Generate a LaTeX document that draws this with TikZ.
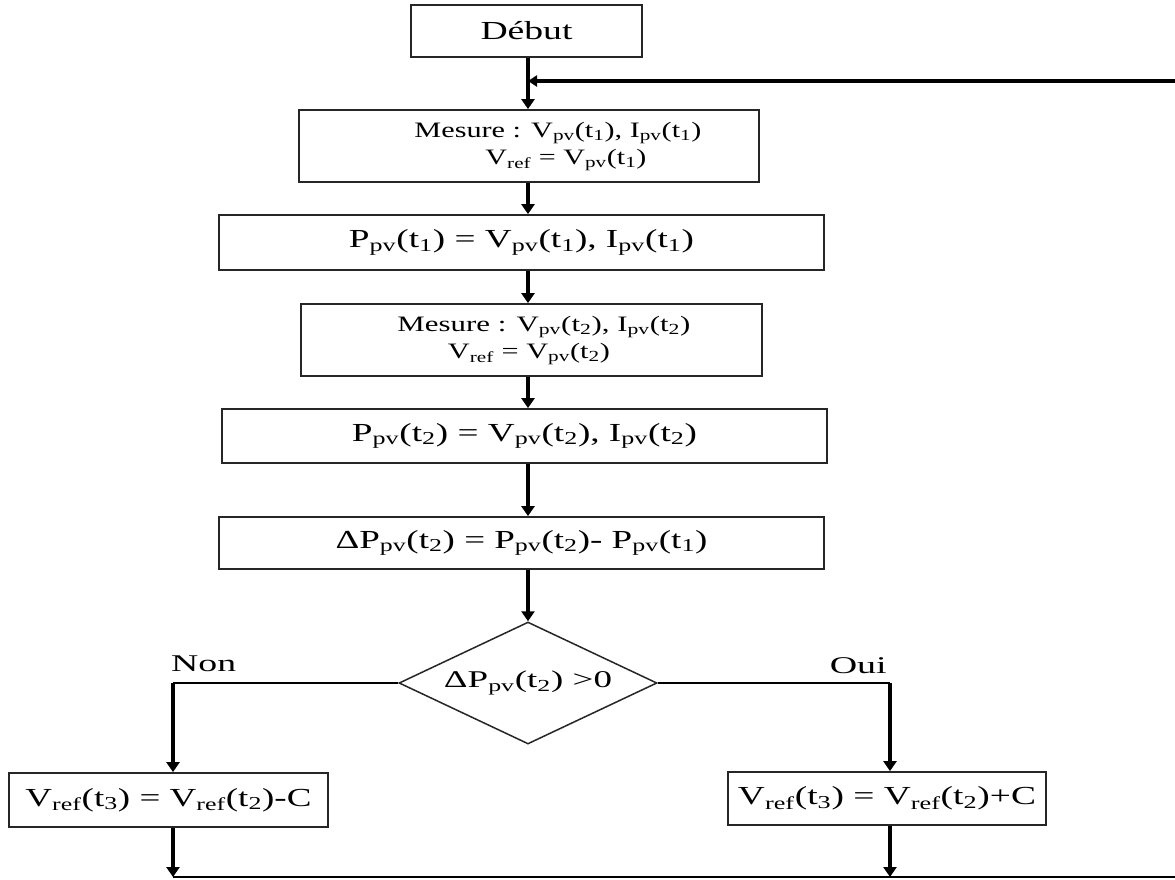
\documentclass[tikz,border=0pt]{standalone}
\usepackage{fontspec}
\setmainfont{Liberation Serif}
\usepackage{graphicx}
\usetikzlibrary{arrows.meta,shapes.geometric}
\newcommand\sbs[1]{\textsubscript{#1}}
\newcommand\fitw[2]{\resizebox{#1pt}{\height}{#2}}
\begin{document}
\begin{tikzpicture}[x=1pt,y=-1pt,
  box/.style={draw=black!85, line width=1.8pt, inner sep=0pt, fill=white},
  txt/.style={inner sep=0pt},
  big/.style={font=\fontsize{26pt}{30pt}\selectfont},
  mid/.style={font=\fontsize{22pt}{26pt}\selectfont},
  lab/.style={font=\fontsize{24pt}{28pt}\selectfont},
  arr/.style={line width=3.6pt, -{Triangle[length=10pt,width=13pt]}},
  fb/.style={line width=3.6pt, -{Triangle[length=9pt,width=11pt]}},
  thinline/.style={line width=1.5pt},
  botline/.style={line width=2.2pt}
]
\useasboundingbox (0,0) rectangle (1175,879);
\fill[white] (0,0) rectangle (1175,879);

% boxes
\node[box, minimum width=231pt, minimum height=52pt, big] (debut) at (526.5,31) {\fitw{92}{Début}};
\node[box, minimum width=460pt, minimum height=72pt] (m1) at (529,146) {};
\node[txt, mid] (m1a) at (558,133) {\fitw{287}{Mesure : V\sbs{pv}(t\sbs{1}), I\sbs{pv}(t\sbs{1})}};
\node[txt, mid] (m1b) at (566,160) {\fitw{161}{V\sbs{ref} = V\sbs{pv}(t\sbs{1})}};
\node[box, minimum width=605pt, minimum height=55pt, big] (p1) at (521.5,242.5) {\fitw{345}{P\sbs{pv}(t\sbs{1}) = V\sbs{pv}(t\sbs{1}), I\sbs{pv}(t\sbs{1})}};
\node[box, minimum width=461pt, minimum height=72pt] (m2) at (531.5,340) {};
\node[txt, mid] (m2a) at (544,327) {\fitw{293}{Mesure : V\sbs{pv}(t\sbs{2}), I\sbs{pv}(t\sbs{2})}};
\node[txt, mid] (m2b) at (529,354) {\fitw{162}{V\sbs{ref} = V\sbs{pv}(t\sbs{2})}};
\node[box, minimum width=605pt, minimum height=54pt, big] (p2) at (524.5,436) {\fitw{345}{P\sbs{pv}(t\sbs{2}) = V\sbs{pv}(t\sbs{2}), I\sbs{pv}(t\sbs{2})}};
\node[box, minimum width=605pt, minimum height=52pt, big] (dp) at (521.5,543) {\fitw{372}{ΔP\sbs{pv}(t\sbs{2}) = P\sbs{pv}(t\sbs{2})- P\sbs{pv}(t\sbs{1})}};
\node[box, diamond, aspect=2.115, line width=1.5pt, minimum width=258pt, minimum height=122pt, lab] (dia) at (528,683) {\fitw{168}{ΔP\sbs{pv}(t\sbs{2}) >0}};
\node[box, minimum width=319pt, minimum height=54pt, big] (non) at (168.5,800) {\fitw{286}{V\sbs{ref}(t\sbs{3}) = V\sbs{ref}(t\sbs{2})-C}};
\node[box, minimum width=318pt, minimum height=53pt, big] (oui) at (887,798.5) {\fitw{298}{V\sbs{ref}(t\sbs{3}) = V\sbs{ref}(t\sbs{2})+C}};

% labels
\node[txt, lab, anchor=base west] (lnon) at (171,671) {\fitw{65}{Non}};
\node[txt, lab, anchor=base east] (loui) at (887,673) {\fitw{57}{Oui}};

% helper coordinates
\coordinate (c) at (528,0);
\coordinate (fbR) at (1175,81);
\coordinate (nc) at (173,683);
\coordinate (oc) at (890,683);
\coordinate (bl) at (173,877);
\coordinate (br) at (1175,877);

% main column
\draw[arr] (debut.south -| c) -- (m1.north -| c);
\draw[fb] (fbR) -- (fbR -| c);
\draw[arr] (m1.south -| c) -- (p1.north -| c);
\draw[arr] (p1.south -| c) -- (m2.north -| c);
\draw[arr] (m2.south -| c) -- (p2.north -| c);
\draw[arr] (p2.south -| c) -- (dp.north -| c);
\draw[arr] (dp.south -| c) -- (dia.north);

% branches
\draw[thinline] (dia.west) -- (nc);
\draw[arr] (nc) -- (non.north -| nc);
\draw[thinline] (dia.east) -- (oc);
\draw[arr] (oc) -- (oui.north -| oc);

% to bottom line
\draw[arr] (non.south -| nc) -- (bl);
\draw[arr] (oui.south -| oc) -- (oc |- br);
\draw[botline] (bl) -- (br);
\end{tikzpicture}
\end{document}
